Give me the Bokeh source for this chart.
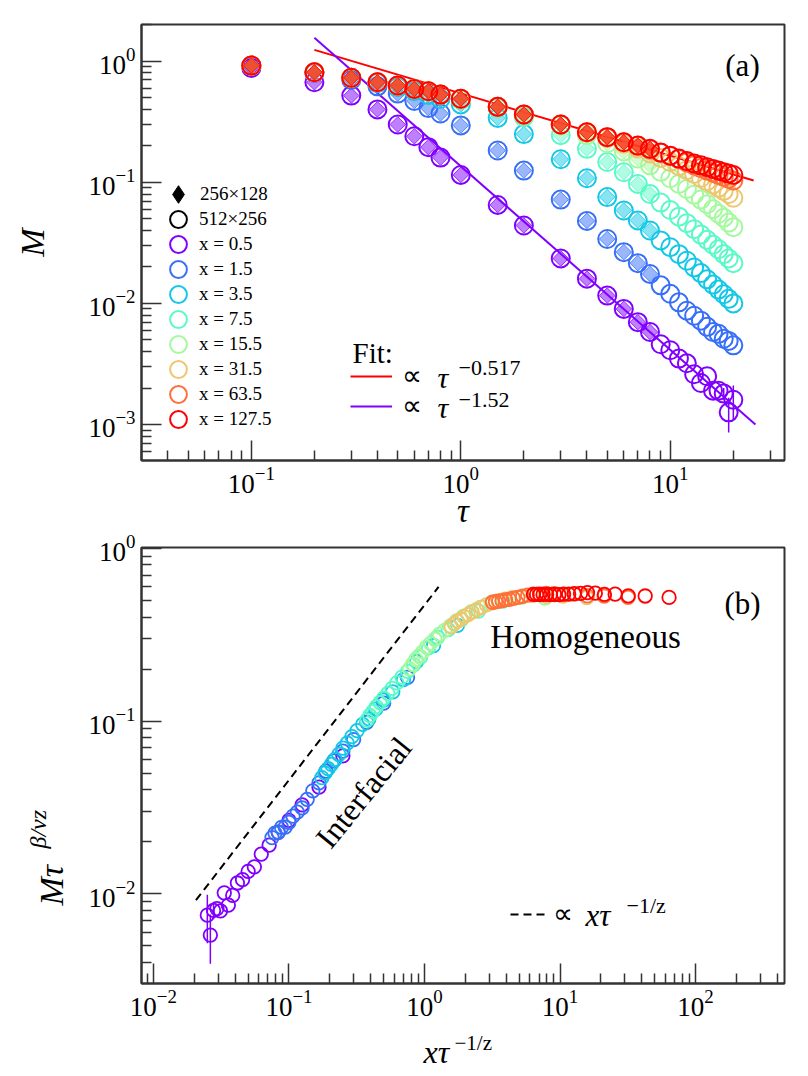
import numpy as np
from bokeh.plotting import figure
from bokeh.models import FixedTicker, Legend, LegendItem, Label
from bokeh.layouts import column, row
from bokeh.embed import file_html
from bokeh.resources import INLINE

FONT = "Liberation Serif"

# ---------------- data ----------------
tau = [0.1, 0.2, 0.3, 0.4, 0.5, 0.6, 0.7, 0.8, 1.0, 1.5, 2, 3, 4, 5, 6, 7, 8,
       9, 10, 11, 12, 13, 14, 15, 16, 17, 18, 19, 20]
n_small = 17            # 256x128 lattice: tau <= 8
first_b = 10            # panel (b) uses tau >= 2
x_sites = [0.5, 1.5, 3.5, 7.5, 15.5, 31.5, 63.5, 127.5]
site_labels = ["x = 0.5", "x = 1.5", "x = 3.5", "x = 7.5", "x = 15.5",
               "x = 31.5", "x = 63.5", "x = 127.5"]
colors = ["#8000ff", "#376ff9", "#12c8e6", "#5bf9c7", "#a4f99f",
          "#edc76f", "#ff6f39", "#ff0000"]

M_x0_5 = [0.88, 0.67, 0.52, 0.40, 0.30, 0.24, 0.195, 0.16, 0.115, 0.065, 0.044,
          0.0235, 0.016, 0.0116, 0.009, 0.0070, 0.0058, 0.0046, 0.0041, 0.0035,
          0.0032, 0.0026, 0.0022, 0.0025, 0.0019, 0.0019, 0.0018, 0.00126, 0.0016]
M_x1_5 = [0.91, 0.80, 0.70, 0.62, 0.54, 0.47, 0.41, 0.37, 0.295, 0.183, 0.125,
          0.072, 0.048, 0.034, 0.0265, 0.0215, 0.0175, 0.0141, 0.012, 0.0102,
          0.0087, 0.0079, 0.0072, 0.0064, 0.0058, 0.0056, 0.0051, 0.0049, 0.0045]
M_x3_5 = [0.92, 0.81, 0.73, 0.66, 0.61, 0.565, 0.525, 0.49, 0.44, 0.34, 0.25,
          0.155, 0.108, 0.0755, 0.0585, 0.0484, 0.040, 0.0331, 0.0291, 0.0255,
          0.0225, 0.0198, 0.0178, 0.0158, 0.0143, 0.0130, 0.0119, 0.0109, 0.0100]
M_x7_5 = [0.92, 0.81, 0.73, 0.67, 0.63, 0.59, 0.56, 0.53, 0.48, 0.41, 0.345,
          0.245, 0.189, 0.147, 0.121, 0.097, 0.080, 0.068, 0.059, 0.052,
          0.046, 0.041, 0.037, 0.0335, 0.0305, 0.028, 0.0255, 0.0235, 0.0215]
M_x15_5 = [0.92, 0.81, 0.73, 0.67, 0.63, 0.59, 0.565, 0.53, 0.485, 0.42, 0.36,
           0.295, 0.245, 0.21, 0.18, 0.157, 0.138, 0.122, 0.108, 0.097,
           0.088, 0.079, 0.072, 0.066, 0.060, 0.055, 0.051, 0.0465, 0.0426]
M_x31_5 = [0.92, 0.81, 0.73, 0.67, 0.63, 0.59, 0.565, 0.53, 0.49, 0.42, 0.362,
           0.30, 0.257, 0.232, 0.208, 0.19, 0.173, 0.159, 0.147, 0.136,
           0.126, 0.117, 0.109, 0.102, 0.096, 0.090, 0.085, 0.080, 0.0745]
M_x63_5 = [0.92, 0.81, 0.73, 0.67, 0.63, 0.59, 0.565, 0.53, 0.49, 0.42, 0.363,
           0.30, 0.259, 0.236, 0.214, 0.20, 0.187, 0.175, 0.165, 0.155,
           0.146, 0.138, 0.131, 0.125, 0.12, 0.115, 0.111, 0.107, 0.1035]
M_x127_5 = [0.92, 0.81, 0.73, 0.67, 0.63, 0.59, 0.565, 0.53, 0.49, 0.42, 0.363,
            0.30, 0.259, 0.236, 0.214, 0.201, 0.189, 0.176, 0.166, 0.157,
            0.150, 0.143, 0.138, 0.133, 0.129, 0.125, 0.121, 0.118, 0.115]
err_x0_5 = [0, 0, 0, 0, 0, 0, 0, 0, 0, 0, 0, 0, 0, 0, 0, 0, 0, 0, 0, 0,
            0, 0, 0, 0, 0, 0, 0.0002, 0.0004, 0.0005]

M_series = [M_x0_5, M_x1_5, M_x3_5, M_x7_5, M_x15_5, M_x31_5, M_x63_5, M_x127_5]

# fits (end points of the drawn fit lines)
fit_red_tau = [0.2, 25.0]
fit_red_M = [1.24, 0.1035]
fit_purple_tau = [0.2, 25.5]
fit_purple_M = [1.56, 0.001]

# scaling exponents of panel (b)
BETA_NU_Z = 0.517
INV_Z = 1.0

# guide line  ∝ x tau^{-1/z} in panel (b)
guide_X = [0.0206, 1.27]
guide_Y = [0.0092, 0.5975]


def decade_ticks(lo, hi):
    majors = [10.0 ** e for e in range(lo, hi + 1)]
    minors = [k * 10.0 ** e for e in range(lo - 1, hi + 1) for k in range(2, 10)]
    return FixedTicker(ticks=majors, minor_ticks=minors)


def style(p):
    p.outline_line_color = "#333333"
    p.outline_line_width = 2
    p.outline_line_alpha = 1
    p.xgrid.visible = False
    p.ygrid.visible = False
    p.background_fill_color = "white"
    p.border_fill_color = "white"
    for ax in (p.xaxis[0], p.yaxis[0]):
        ax.axis_line_width = 2
        ax.axis_line_color = "#333333"
        ax.major_tick_in = 20
        ax.major_tick_out = 0
        ax.minor_tick_in = 10
        ax.minor_tick_out = 0
        ax.major_tick_line_width = 1.5
        ax.minor_tick_line_width = 1.5
        ax.major_tick_line_color = "#333333"
        ax.minor_tick_line_color = "#333333"
        ax.major_label_text_font = FONT
        ax.major_label_text_font_size = "27px"
        ax.major_label_text_color = "black"
        ax.major_label_standoff = 6
        ax.axis_label_text_font = FONT
        ax.axis_label_text_font_style = "italic"
        ax.axis_label_text_color = "black"


def label(p, text, x, y, size, style="normal", angle=0.0, align="center",
          baseline="middle"):
    p.add_layout(Label(x=x, y=y, x_units="screen", y_units="screen", text=text,
                       text_font=FONT, text_font_size=size,
                       text_font_style=style, angle=angle, text_align=align,
                       text_baseline=baseline, text_color="black"))


def one_item_legend(p, text, renderer, x, y, gw, gh, standoff, size):
    p.add_layout(Legend(items=[LegendItem(label=text, renderers=[renderer])],
                        location=(x, y), glyph_width=gw, glyph_height=gh,
                        label_standoff=standoff, padding=0, margin=0,
                        border_line_alpha=0, background_fill_alpha=0,
                        label_text_font=FONT, label_text_font_size=size,
                        label_text_color="black", label_height=20))


def strip(width, height, left=0, right=0, top=0, bottom=0):
    s = figure(width=width, height=height, x_range=(0, 1), y_range=(0, 1),
               output_backend="svg", toolbar_location=None,
               x_axis_location=None, y_axis_location=None,
               min_border_left=left, min_border_right=right,
               min_border_top=top, min_border_bottom=bottom,
               outline_line_color=None)
    s.xgrid.visible = False
    s.ygrid.visible = False
    return s


# ---------------- panel (a) ----------------
p1 = figure(frame_width=643, frame_height=436, x_axis_type="log",
            y_axis_type="log", x_range=(0.0299, 35.1), y_range=(5.04e-4, 2.01),
            output_backend="svg", toolbar_location=None,
            min_border_left=141, min_border_right=16,
            min_border_top=24, min_border_bottom=71)
style(p1)
p1.xaxis.ticker = decade_ticks(-1, 1)
p1.yaxis.ticker = decade_ticks(-3, 0)
p1.yaxis.axis_label = "M"
p1.yaxis.axis_label_text_font_size = "34px"
p1.yaxis.axis_label_standoff = 34
p1.xaxis.axis_label = "τ"
p1.xaxis.axis_label_text_font_size = "33px"
p1.xaxis.axis_label_standoff = -3

fit_r = p1.line(fit_red_tau, fit_red_M, line_color="#ff0000", line_width=2)
fit_p = p1.line(fit_purple_tau, fit_purple_M, line_color="#8000ff", line_width=2)

circ_a = []
for col, M in zip(colors, M_series):
    p1.scatter(tau[:n_small], M[:n_small], marker="square", angle=np.pi / 4,
               size=11, fill_color=col, fill_alpha=0.5, line_color=col,
               line_alpha=0.75, line_width=1)
    circ_a.append(p1.scatter(tau, M, marker="circle", size=18, fill_color=None,
                             line_color=col, line_width=2))

tp = np.array(tau)
Mp = np.array(M_x0_5)
ep = np.array(err_x0_5)
has = ep > 0
p1.segment(tp[has], Mp[has] - ep[has], tp[has], Mp[has] + ep[has],
           line_color="#8000ff", line_width=1.5)

# legend-only glyphs (no data point drawn)
dummy_d = p1.scatter([np.nan], [np.nan], marker="diamond", size=10,
                     fill_color="black", line_color="black")
dummy_c = p1.scatter([np.nan], [np.nan], marker="circle", size=10,
                     fill_color=None, line_color="black", line_width=2)

leg_texts = ["256×128", "512×256"] + site_labels
leg_rends = [dummy_d, dummy_c] + circ_a
for i, (t, r) in enumerate(zip(leg_texts, leg_rends)):
    centre = 194 + 25 * i          # row centre, px from the figure top
    gs = 44 if i == 0 else 42
    one_item_legend(p1, t, r, 178 - gs / 2 - 141, 460 - centre - gs / 2,
                    gs, gs, 0, "19px")

# fit legend
label(p1, "Fit:", 211, 108, "29px", align="left")
one_item_legend(p1, "∝", fit_r, 209, 68, 42, 30, 10, "28px")
one_item_legend(p1, "∝", fit_p, 209, 38, 42, 30, 10, "28px")
label(p1, "τ", 296, 83, "30px", style="italic", align="left")
label(p1, "−0.517", 317, 93, "22px", align="left")
label(p1, "τ", 296, 53, "30px", style="italic", align="left")
label(p1, "−1.52", 317, 61, "22px", align="left")
label(p1, "(a)", 601, 395, "31px")

# ---------------- panel (b) ----------------
p2 = figure(frame_width=643, frame_height=436, x_axis_type="log",
            y_axis_type="log", x_range=(8.17e-3, 453), y_range=(3.03e-3, 1.01),
            output_backend="svg", toolbar_location=None,
            min_border_left=71, min_border_right=16,
            min_border_top=16, min_border_bottom=44)
style(p2)
p2.xaxis.ticker = decade_ticks(-2, 2)
p2.yaxis.ticker = decade_ticks(-2, 0)

tb = np.array(tau[first_b:])
for xs, col, M in zip(x_sites, colors, M_series):
    Mb = np.array(M[first_b:])
    p2.scatter(xs * tb ** (-INV_Z), Mb * tb ** BETA_NU_Z, marker="circle",
               size=13.5, fill_color=None, line_color=col, line_width=1.8)

tbe = tp[has]
p2.segment(0.5 * tbe ** (-INV_Z), (Mp[has] - ep[has]) * tbe ** BETA_NU_Z,
           0.5 * tbe ** (-INV_Z), (Mp[has] + ep[has]) * tbe ** BETA_NU_Z,
           line_color="#8000ff", line_width=1.5)

guide = p2.line(guide_X, guide_Y, line_color="black", line_width=2,
                line_dash="8 5")
one_item_legend(p2, "∝", guide, 369, 53, 36, 30, 7, "28px")
label(p2, "xτ", 444, 68, "31px", style="italic", align="left")
label(p2, "−1/z", 485, 78, "22px", align="left")

label(p2, "(b)", 601, 380, "31px")
label(p2, "Homogeneous", 444, 347, "33px")
label(p2, "Interfacial", 222, 191, "32px", angle=np.radians(51))

ylab_b = strip(70, 496, top=16, bottom=44)
label(ylab_b, "Mτ", 51, 78, "34px", style="italic", angle=np.pi / 2,
      align="left", baseline="alphabetic")
label(ylab_b, "β/νz", 37, 135, "24px", style="italic", angle=np.pi / 2,
      align="left", baseline="alphabetic")

xlab_b = strip(800, 48, left=141, right=16)
label(xlab_b, "xτ", 282, 24, "32px", style="italic", align="left",
      baseline="middle")
label(xlab_b, "−1/z", 313, 33, "21px", align="left", baseline="middle")

layout = column(p1, row(ylab_b, p2), xlab_b)
open("out.html", "w").write(file_html(layout, INLINE))
